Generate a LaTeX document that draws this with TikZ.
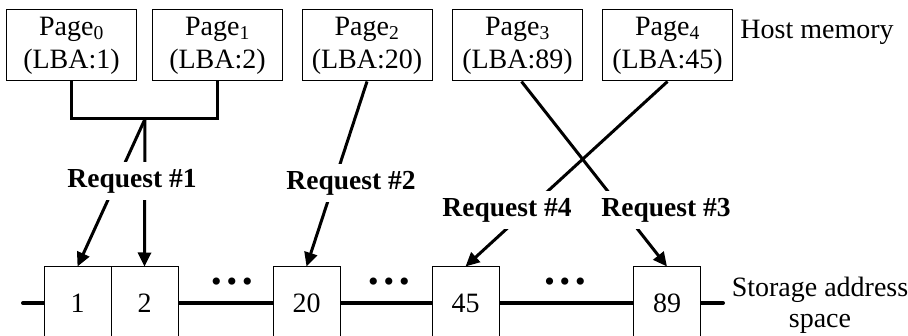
\documentclass[tikz,border=0pt]{standalone}
\usepackage{fontspec}
\setmainfont{Liberation Serif}
\usetikzlibrary{calc}
\usetikzlibrary{positioning}
\usetikzlibrary{arrows.meta}

\begin{document}
\begin{tikzpicture}[x=1pt,y=-1pt,
  page/.style={draw,line width=1pt,minimum width=130pt,minimum height=71pt,inner sep=0pt,align=center,font=\fontsize{28}{33}\selectfont},
  cell/.style={draw,line width=1pt,fill=white,minimum width=67pt,minimum height=72pt,inner sep=0pt,font=\fontsize{28}{30}\selectfont},
  req/.style={fill=white,inner xsep=3pt,inner ysep=7pt,font=\fontsize{27.5}{30}\selectfont\bfseries},
  link/.style={line width=3pt},
  linkarrow/.style={line width=3pt,-{Triangle[length=14pt,width=13pt]}},
  caption/.style={align=center,font=\fontsize{28}{31}\selectfont},
  dotrow/.style={inner sep=0pt,font=\fontsize{30}{30}\selectfont}]
\useasboundingbox (0,0) rectangle (908,336);
\clip (0,0) rectangle (908,336);

% host memory pages
\node[page] (pg0) at (71.5,45.5) {Page\textsubscript{0}\\(LBA:1)};
\node[page] (pg1) at (217.5,45.5) {Page\textsubscript{1}\\(LBA:2)};
\node[page] (pg2) at (367,45.5) {Page\textsubscript{2}\\(LBA:20)};
\node[page] (pg3) at (517.5,45.5) {Page\textsubscript{3}\\(LBA:89)};
\node[page] (pg4) at (667.5,45.5) {Page\textsubscript{4}\\(LBA:45)};
\node[caption] (host) at (817,32) {Host memory};

% storage address space
\coordinate (lstart) at (23,303);
\coordinate (lend) at (723,303);
\draw[line width=4pt,line cap=round] (lstart) -- (lend);

\node[cell] (s1) at (77.5,303) {1};
\node[cell] (s2) at (144.5,303) {2};
\node[cell] (s20) at (306.5,303) {20};
\node[cell] (s45) at (465.5,303) {45};
\node[cell] (s89) at (667,303) {89};
\node[caption] (store) at (820,305.5) {Storage address\\space};

\node[dotrow] (d1) at (232,285) {\textbullet\,\textbullet\,\textbullet};
\node[dotrow] (d2) at (389,285) {\textbullet\,\textbullet\,\textbullet};
\node[dotrow] (d3) at (565,285) {\textbullet\,\textbullet\,\textbullet};

% requests
\coordinate (j) at (145,119);
\draw[link] (pg0.south) |- (j) -| (pg1.south);
\draw[linkarrow] (j) -- (s1.north);
\draw[linkarrow] (j) -- (s2.north);
\draw[linkarrow] (pg2.south) -- (s20.north);
\draw[linkarrow] ([xshift=4pt]pg3.south) -- (s89.north);
\draw[linkarrow] (pg4.south) -- (s45.north);

\node[req] (r1) at (132,181) {Request \#1};
\node[req] (r2) at (351,183) {Request \#2};
\node[req] (r4) at (507,210) {Request \#4};
\node[req] (r3) at (666,210) {Request \#3};

\end{tikzpicture}
\end{document}
